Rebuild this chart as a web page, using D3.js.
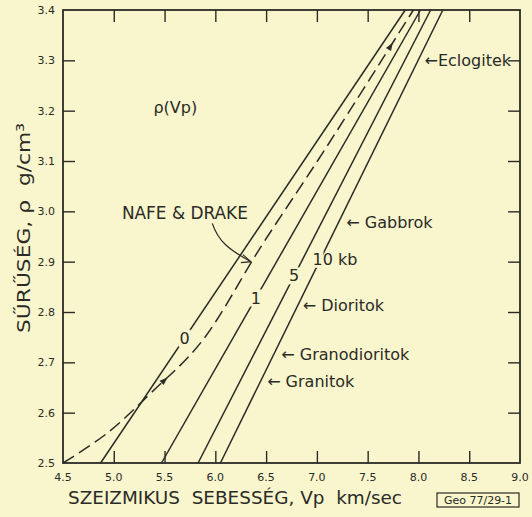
<!DOCTYPE html>
<html>
<head>
<meta charset="utf-8">
<script src="https://cdn.jsdelivr.net/npm/d3@7"></script>
<style>
  body { margin: 0; background: #f9f6cd; }
  svg { display: block; }
  text { font-family: "DejaVu Sans", sans-serif; fill: #2a2a26; white-space: pre; }
</style>
</head>
<body>
<div id="area"></div>
<script>
// data
var xTicks = [4.5, 5.0, 5.5, 6.0, 6.5, 7.0, 7.5, 8.0, 8.5, 9.0];
var yTicks = [2.5, 2.6, 2.7, 2.8, 2.9, 3.0, 3.1, 3.2, 3.3, 3.4];
var pressures = ["0", "1", "5", "10 kb"];
var rhoEnds = [2.5, 3.4];
var vpAtBottom = [4.87, 5.47, 5.83, 6.05];
var vpAtTop = [7.87, 8.02, 8.12, 8.24];
// where the pressure labels sit on their line (density)
var pressureLabelRho = [2.748, 2.828, 2.872, 2.905];

// Nafe & Drake curve
var nafeVp = [4.5, 4.94, 5.37, 5.86, 6.45, 7.07, 7.95];
var nafeRho = [2.5, 2.56, 2.64, 2.74, 2.93, 3.12, 3.4];
// small arrowheads drawn on the dashed curve
var nafeArrowRho = [2.67, 3.335];

// rock types pointing at the 10 kb line
var rocks = ["←Eclogitek", "← Gabbrok", "← Dioritok", "← Granodioritok", "← Granitok"];
var rockVp = [8.06, 7.29, 6.86, 6.65, 6.51];
var rockRho = [3.30, 2.979, 2.814, 2.715, 2.663];

var bg = "#f9f6cd", ink = "#2a2a26";
var margin = {top: 10, right: 12, bottom: 54, left: 63},
    width = 532 - margin.left - margin.right,
    height = 517 - margin.top - margin.bottom;

var svg = d3.select("#area").append("svg")
    .attr("width", 532)
    .attr("height", 517);
var g = svg.append("g")
    .attr("transform", "translate(" + margin.left + "," + margin.top + ")");

var x = d3.scaleLinear().domain([4.5, 9.0]).range([0, width]);
var y = d3.scaleLinear().domain([2.5, 3.4]).range([height, 0]);

// frame
g.append("rect")
  .attr("width", width).attr("height", height)
  .attr("fill", "none").attr("stroke", ink).attr("stroke-width", 1.8);

// inward ticks on all sides
var tl = 12;
g.append("g").attr("transform", "translate(0," + height + ")")
  .call(d3.axisBottom(x).tickValues(xTicks.slice(1, -1)).tickSize(-tl).tickFormat(""))
  .call(function(a) { a.select(".domain").remove(); });
g.append("g")
  .call(d3.axisTop(x).tickValues(xTicks.slice(1, -1)).tickSize(-tl).tickFormat(""))
  .call(function(a) { a.select(".domain").remove(); });
g.append("g")
  .call(d3.axisLeft(y).tickValues(yTicks.slice(1, -1)).tickSize(-tl).tickFormat(""))
  .call(function(a) { a.select(".domain").remove(); });
g.append("g").attr("transform", "translate(" + width + ",0)")
  .call(d3.axisRight(y).tickValues(yTicks.slice(1, -1)).tickSize(-tl).tickFormat(""))
  .call(function(a) { a.select(".domain").remove(); });
g.selectAll(".tick line").attr("stroke", ink).attr("stroke-width", 1.4);

// tick labels
g.selectAll(".xlab").data(xTicks).enter().append("text")
  .attr("class", "xlab")
  .attr("x", function(d) { return x(d); })
  .attr("y", height + 18)
  .attr("text-anchor", "middle")
  .style("font-size", "11px")
  .text(function(d) { return d.toFixed(1); });
g.selectAll(".ylab").data(yTicks).enter().append("text")
  .attr("class", "ylab")
  .attr("x", -8)
  .attr("y", function(d) { return y(d); })
  .attr("dy", "0.35em")
  .attr("text-anchor", "end")
  .style("font-size", "11px")
  .text(function(d) { return d.toFixed(1); });

// pressure lines
var line = d3.line().x(function(d) { return x(d[0]); }).y(function(d) { return y(d[1]); });
pressures.forEach(function(p, i) {
  g.append("path")
    .datum([[vpAtBottom[i], rhoEnds[0]], [vpAtTop[i], rhoEnds[1]]])
    .attr("d", line)
    .attr("fill", "none").attr("stroke", ink).attr("stroke-width", 1.5);
});

// Nafe & Drake dashed curve
var nafe = nafeVp.map(function(v, i) { return [v, nafeRho[i]]; });
var nafePath = g.append("path")
  .datum(nafe)
  .attr("d", d3.line().curve(d3.curveCatmullRom.alpha(0.5))
    .x(function(d) { return x(d[0]); }).y(function(d) { return y(d[1]); }))
  .attr("fill", "none").attr("stroke", ink).attr("stroke-width", 1.5)
  .attr("stroke-dasharray", "13,6");

// arrowheads along the dashed curve
var pn = nafePath.node(), total = pn.getTotalLength();
nafeArrowRho.forEach(function(r) {
  var target = y(r), lo = 0, hi = total;
  for (var k = 0; k < 30; k++) {
    var mid = (lo + hi) / 2;
    if (pn.getPointAtLength(mid).y > target) lo = mid; else hi = mid;
  }
  var a = pn.getPointAtLength(lo), b = pn.getPointAtLength(Math.max(0, lo - 4));
  var ang = Math.atan2(a.y - b.y, a.x - b.x) * 180 / Math.PI;
  g.append("path")
    .attr("d", "M0,0 L-8,-3 L-8,3 Z")
    .attr("transform", "translate(" + a.x + "," + a.y + ") rotate(" + ang + ")")
    .attr("fill", ink);
});

// pressure labels, breaking their line
function vpOn(i, r) {
  return vpAtBottom[i] + (vpAtTop[i] - vpAtBottom[i]) * (r - rhoEnds[0]) / (rhoEnds[1] - rhoEnds[0]);
}
pressures.forEach(function(p, i) {
  var r = pressureLabelRho[i];
  var t = g.append("text")
    .attr("x", x(vpOn(i, r)) + (i == 3 ? -8 : 0))
    .attr("y", y(r))
    .attr("dy", "0.35em")
    .attr("text-anchor", i == 3 ? "start" : "middle")
    .style("font-size", "16px")
    .text(p);
  var b = t.node().getBBox();
  g.insert("rect", function() { return t.node(); })
    .attr("x", b.x - 1).attr("y", b.y + 1)
    .attr("width", i == 3 ? 12 : b.width + 2).attr("height", b.height - 2)
    .attr("fill", bg);
});

// rock annotations
rocks.forEach(function(r, i) {
  g.append("text")
    .attr("x", x(rockVp[i]))
    .attr("y", y(rockRho[i]))
    .attr("dy", "0.35em")
    .style("font-size", "16px")
    .text(r);
});

// rho(Vp)
g.append("text")
  .attr("x", x(5.39)).attr("y", y(3.195))
  .style("font-size", "16px")
  .text("ρ(Vp)");

// NAFE & DRAKE label and curved pointer
g.append("text")
  .attr("x", x(5.08)).attr("y", y(2.997))
  .attr("dy", "0.35em")
  .attr("textLength", 126).attr("lengthAdjust", "spacingAndGlyphs")
  .style("font-size", "17px")
  .text("NAFE & DRAKE");
var p0 = [x(5.97), y(2.976)], p1 = [x(6.35), y(2.90)];
g.append("path")
  .attr("d", "M" + p0 + " C" + [p0[0] + 6, p0[1] + 18] + " " + [p1[0] - 22, p1[1] - 12] + " " + p1)
  .attr("fill", "none").attr("stroke", ink).attr("stroke-width", 1.2);
g.append("path")
  .attr("d", "M" + [p1[0] - 8, p1[1] - 7] + " L" + p1 + " L" + [p1[0] - 10, p1[1] + 1])
  .attr("fill", "none").attr("stroke", ink).attr("stroke-width", 1.2);

// axis titles
svg.append("text")
  .attr("x", 68).attr("y", 504)
  .attr("textLength", 334).attr("lengthAdjust", "spacingAndGlyphs")
  .style("font-size", "18px")
  .text("SZEIZMIKUS  SEBESSÉG, Vp  km/sec");
svg.append("text")
  .attr("transform", "translate(30,333) rotate(-90)")
  .attr("textLength", 210).attr("lengthAdjust", "spacingAndGlyphs")
  .style("font-size", "18px")
  .text("SŰRŰSÉG, ρ  g/cm³");

// reference box
svg.append("rect")
  .attr("x", 437).attr("y", 493).attr("width", 82).attr("height", 14)
  .attr("fill", "none").attr("stroke", ink).attr("stroke-width", 1.2);
svg.append("text")
  .attr("x", 478).attr("y", 504)
  .attr("text-anchor", "middle")
  .style("font-size", "11px")
  .text("Geo 77/29-1");
</script>
</body>
</html>
